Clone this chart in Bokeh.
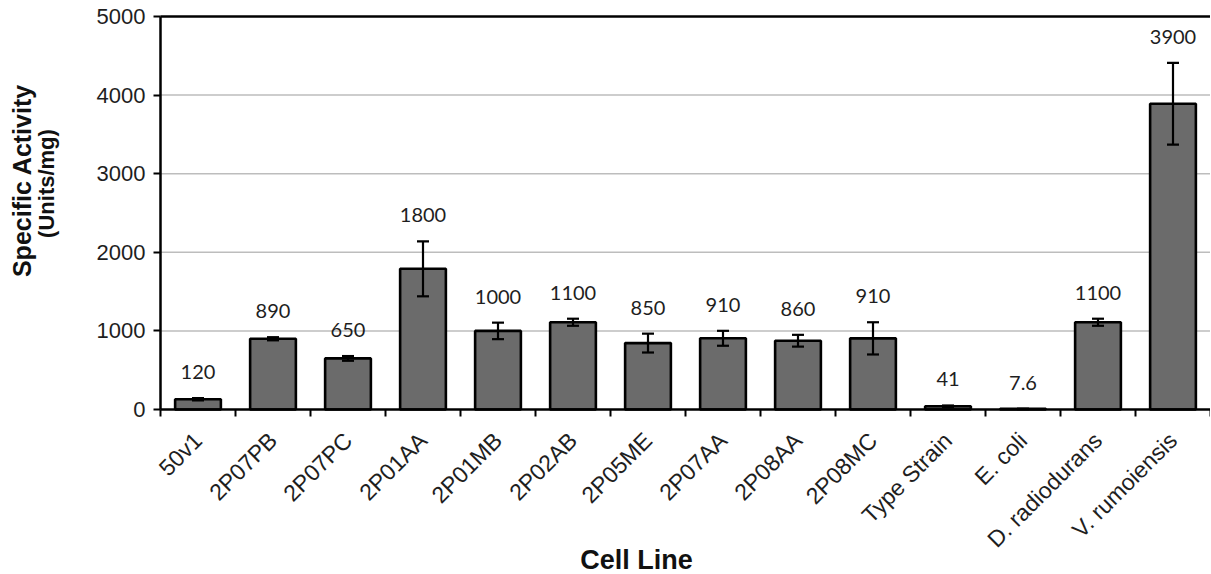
import math
from bokeh.plotting import figure
from bokeh.models import (ColumnDataSource, Range1d, FixedTicker, Whisker, TeeHead,
                          Label, LinearAxis)
from bokeh.core.properties import value
from bokeh.embed import file_html
from bokeh.resources import INLINE

categories = ["50v1", "2P07PB", "2P07PC", "2P01AA", "2P01MB", "2P02AB", "2P05ME",
              "2P07AA", "2P08AA", "2P08MC", "Type Strain", "E. coli",
              "D. radiodurans", "V. rumoiensis"]
activity = [130, 900, 650, 1790, 1000, 1110, 845, 906, 875, 905, 41, 7.6, 1110, 3890]
errors = [15, 20, 30, 350, 105, 45, 120, 95, 75, 205, 10, 3, 45, 520]
value_labels = ["120", "890", "650", "1800", "1000", "1100", "850", "910", "860",
                "910", "41", "7.6", "1100", "3900"]
y_ticks = [0, 1000, 2000, 3000, 4000, 5000]
y_max = 5000

# ---- layout (pixels) ----
W, H = 1210, 573
PX_LEFT, PX_RIGHT = 160, 1210      # where x = 0 and x = n fall
PX_TOP, PX_ZERO = 16, 409          # where y = y_max and y = 0 fall (from top)

n = len(categories)
ux = n / (PX_RIGHT - PX_LEFT)          # data units per pixel (x)
uy = y_max / (PX_ZERO - PX_TOP)        # data units per pixel (y)
x_range = Range1d(-PX_LEFT * ux, n + (W - PX_RIGHT) * ux)
y_range = Range1d(-(H - PX_ZERO) * uy, y_max + PX_TOP * uy)

centers = [i + 0.5 for i in range(n)]
bounds = [float(i) for i in range(n + 1)]
upper = [a + e for a, e in zip(activity, errors)]
lower = [a - e for a, e in zip(activity, errors)]
label_y = [max(a, u) for a, u in zip(activity, upper)]

src = ColumnDataSource(dict(x=centers, top=activity, upper=upper, lower=lower,
                            ly=label_y, lab=value_labels))
grid_src = ColumnDataSource(dict(x0=[0] * (len(y_ticks) - 2), x1=[n] * (len(y_ticks) - 2),
                                 y=y_ticks[1:-1]))
top_src = ColumnDataSource(dict(x0=[0], x1=[n], y=[y_max]))

p = figure(width=W, height=H, output_backend="svg", toolbar_location=None,
           x_range=x_range, y_range=y_range,
           x_axis_location=None, y_axis_location=None, min_border=0)
p.outline_line_color = None
p.background_fill_color = "white"
p.border_fill_color = "white"
p.xgrid.visible = False
p.ygrid.visible = False

# grid lines (from tick values)
p.segment(x0="x0", x1="x1", y0="y", y1="y", source=grid_src,
          line_color="#bdbdbd", line_width=1.5)

# bars
p.vbar(x="x", top="top", width=0.61, source=src, fill_color="#6b6b6b",
       line_color="black", line_width=2.6)

# error bars
p.add_layout(Whisker(base="x", upper="upper", lower="lower", source=src,
                     level="overlay", line_color="black", line_width=2.2,
                     upper_head=TeeHead(size=12, line_width=2.2, line_color="black"),
                     lower_head=TeeHead(size=12, line_width=2.2, line_color="black")))

# value labels
p.text(x="x", y="ly", text="lab", source=src, text_align="center",
       text_baseline="bottom", y_offset=-19, text_font=value("Lato"),
       text_font_size="20px", text_color="#1e1e1e")

# top border line
p.segment(x0="x0", x1="x1", y0="y", y1="y", source=top_src,
          line_color="black", line_width=2.5)

# x axis at y = 0
xa = LinearAxis(fixed_location=0, bounds=(0, n))
xa.ticker = FixedTicker(ticks=centers, minor_ticks=bounds)
xa.major_label_overrides = {c: name for c, name in zip(centers, categories)}
xa.major_label_orientation = math.pi / 4
xa.major_tick_out = 0
xa.major_tick_in = 0
xa.minor_tick_out = 7
xa.minor_tick_in = 0
xa.minor_tick_line_color = "black"
xa.minor_tick_line_width = 2
xa.axis_line_width = 2.5
xa.axis_line_color = "black"
xa.major_label_text_font = "Liberation Sans"
xa.major_label_text_font_size = "23px"
xa.major_label_text_color = "#1e1e1e"
xa.major_label_standoff = 20
p.add_layout(xa, "below")

# y axis at x = 0
ya = LinearAxis(fixed_location=0, bounds=(0, y_max))
ya.ticker = FixedTicker(ticks=y_ticks)
ya.major_tick_out = 7
ya.major_tick_in = 0
ya.minor_tick_line_color = None
ya.major_tick_line_width = 2
ya.major_tick_line_color = "black"
ya.axis_line_width = 2.5
ya.axis_line_color = "black"
ya.major_label_text_font = "Liberation Sans"
ya.major_label_text_font_size = "22px"
ya.major_label_text_color = "#1e1e1e"
ya.major_label_standoff = 8
p.add_layout(ya, "left")

# axis titles (screen units, origin at bottom-left of the canvas-sized frame)
p.add_layout(Label(x=21.5, y=H - 180, x_units="screen", y_units="screen",
                   text="Specific Activity", angle=math.pi / 2,
                   text_align="center", text_baseline="middle",
                   text_font="Liberation Sans", text_font_style="bold",
                   text_font_size="25px", text_color="#111111"))
p.add_layout(Label(x=46, y=H - 183, x_units="screen", y_units="screen",
                   text="(Units/mg)", angle=math.pi / 2,
                   text_align="center", text_baseline="middle",
                   text_font="Liberation Sans", text_font_style="bold",
                   text_font_size="22px", text_color="#111111"))
p.add_layout(Label(x=636, y=H - 559, x_units="screen", y_units="screen",
                   text="Cell Line", text_align="center",
                   text_baseline="middle",
                   text_font="Liberation Sans", text_font_style="bold",
                   text_font_size="27px", text_color="#111111"))

open("out.html", "w").write(file_html(p, INLINE))
